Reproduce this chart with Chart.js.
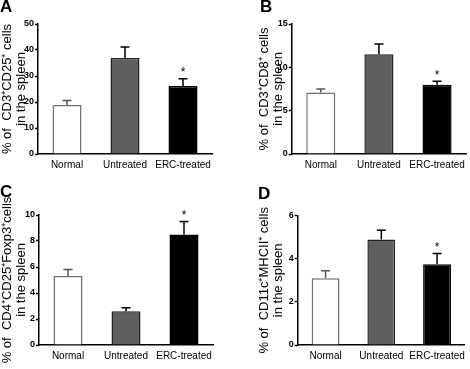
<!DOCTYPE html>
<html lang="en">
<head>
<meta charset="UTF-8">
<title>Spleen cell populations</title>
<script src="https://cdn.jsdelivr.net/npm/chart.js"></script>
<style>
  body { margin: 0; background: #fff; }
  #figure { position: relative; width: 470px; height: 369px; overflow: hidden; font-family: "Liberation Sans", Arial, sans-serif; }
  .panel { position: absolute; }
  .letter { position: absolute; font-weight: bold; font-size: 17px; line-height: 1; color: #000; }
</style>
</head>
<body>
<div id="figure">
  <canvas class="panel" id="chartA" width="235" height="185" style="left:0;top:0"></canvas>
  <canvas class="panel" id="chartB" width="235" height="185" style="left:235px;top:0"></canvas>
  <canvas class="panel" id="chartC" width="235" height="184" style="left:0;top:185px"></canvas>
  <canvas class="panel" id="chartD" width="235" height="184" style="left:235px;top:185px"></canvas>
  <div class="letter" style="left:0;top:-2px">A</div>
  <div class="letter" style="left:260px;top:-2px">B</div>
  <div class="letter" style="left:0;top:183px">C</div>
  <div class="letter" style="left:258px;top:185px">D</div>
</div>
<script>
  const categories = ['Normal', 'Untreated', 'ERC-treated'];
  const significant = [false, false, true];

  // A: CD3+CD25+
  const cd25Means = [18.8, 36.9, 26.2];
  const cd25Errors = [1.8, 4.3, 2.7];
  // B: CD3+CD8+
  const cd8Means = [7.1, 11.5, 8.0];
  const cd8Errors = [0.4, 1.2, 0.4];
  // C: CD4+CD25+Foxp3+
  const foxp3Means = [5.3, 2.6, 8.5];
  const foxp3Errors = [0.5, 0.27, 1.0];
  // D: CD11c+MHCII+
  const mhcMeans = [3.1, 4.9, 3.75];
  const mhcErrors = [0.35, 0.43, 0.5];

  const barFills = ['#ffffff', '#5f5f5f', '#000000'];
  const barBorders = ['#707070', '#222222', '#000000'];
  const whiskerColors = ['#555555', '#000000', '#000000'];

  Chart.defaults.font.family = '"Liberation Sans", Arial, sans-serif';
  Chart.defaults.color = '#000';

  const errorBars = {
    id: 'errorBars',
    afterDatasetsDraw(chart) {
      const ctx = chart.ctx;
      const yScale = chart.scales.y;
      const ds = chart.data.datasets[0];
      chart.getDatasetMeta(0).data.forEach((bar, i) => {
        const top = yScale.getPixelForValue(ds.data[i] + ds.errors[i]);
        ctx.save();
        ctx.strokeStyle = whiskerColors[i];
        ctx.lineWidth = 1.5;
        ctx.beginPath();
        ctx.moveTo(bar.x, bar.y);
        ctx.lineTo(bar.x, top);
        ctx.moveTo(bar.x - 4.5, top);
        ctx.lineTo(bar.x + 4.5, top);
        ctx.stroke();
        if (significant[i]) {
          ctx.fillStyle = '#000';
          ctx.font = '12px "Liberation Sans", Arial, sans-serif';
          ctx.textAlign = 'center';
          ctx.textBaseline = 'alphabetic';
          ctx.fillText('*', bar.x, top - 2.5);
        }
        ctx.restore();
      });
    }
  };

  function makePanel(id, means, errors, title, max, step, pad, yWidth, xHeight) {
    return new Chart(document.getElementById(id), {
      type: 'bar',
      data: {
        labels: categories,
        datasets: [{
          data: means,
          errors: errors,
          backgroundColor: barFills,
          borderColor: barBorders,
          borderWidth: 1.5,
          barPercentage: 0.5,
          categoryPercentage: 1
        }]
      },
      options: {
        responsive: false,
        animation: false,
        devicePixelRatio: 1,
        layout: { padding: pad },
        plugins: { legend: { display: false }, tooltip: { enabled: false } },
        scales: {
          x: {
            grid: { display: false, drawTicks: false },
            border: { color: '#000', width: 1.5 },
            ticks: { color: '#000', font: { size: 10 }, padding: 5, maxRotation: 0, autoSkip: false },
            afterFit: s => { s.height = xHeight; }
          },
          y: {
            min: 0,
            max: max,
            ticks: { stepSize: step, color: '#000', font: { size: 9, weight: 'bold' }, padding: 1 },
            grid: { drawOnChartArea: false, drawTicks: true, tickLength: 3, tickColor: '#000', tickWidth: 1.5 },
            border: { color: '#000', width: 1.5 },
            title: {
              display: true,
              text: title,
              color: '#000',
              font: { size: 13, lineHeight: 1.12 },
              padding: { top: 0, bottom: 0 }
            },
            afterFit: s => { s.width = yWidth; }
          }
        }
      },
      plugins: [errorBars]
    });
  }

  makePanel('chartA', cd25Means, cd25Errors, ['% of  CD3\u207ACD25\u207A cells', 'in the spleen'], 50, 10,
    { left: 0, top: 24, right: 23, bottom: 0 }, 38, 31);
  makePanel('chartB', cd8Means, cd8Errors, ['% of  CD3\u207ACD8\u207A cells', 'in the spleen'], 15, 5,
    { left: 22, top: 24, right: 1, bottom: 0 }, 34.7, 31);
  makePanel('chartC', foxp3Means, foxp3Errors, ['% of  CD4\u207ACD25\u207AFoxp3\u207Acells', 'in the spleen'], 10, 2,
    { left: 0, top: 30, right: 22, bottom: 0 }, 39, 24);
  makePanel('chartD', mhcMeans, mhcErrors, ['% of  CD11c\u207AMHCII\u207A cells', 'in the spleen'], 6, 2,
    { left: 22, top: 30.7, right: 1, bottom: 0 }, 40.7, 24);
</script>
</body>
</html>
